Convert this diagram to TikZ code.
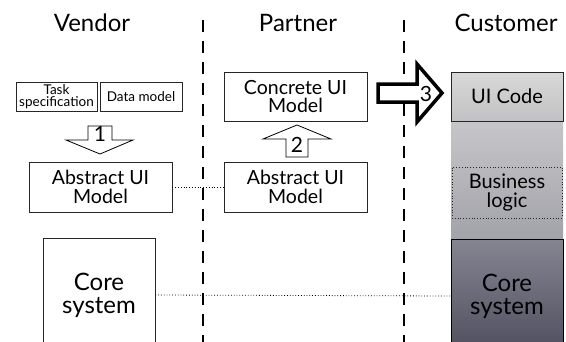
\documentclass[tikz,border=0pt]{standalone}
\usepackage{fontspec}
\setmainfont{Lato}
\definecolor{uitop}{HTML}{D8D8D8}
\definecolor{uibot}{HTML}{C2C2C4}
\definecolor{midtop}{HTML}{C6C6CA}
\definecolor{midbot}{HTML}{A2A2A9}
\definecolor{coretop}{HTML}{858592}
\definecolor{corebot}{HTML}{4E4E5E}
\begin{document}
\begin{tikzpicture}[x=1pt,y=-1pt,
  box/.style={draw=black!85, line width=0.8pt, fill=white, align=center, inner sep=0pt, text=black},
  titletext/.style={font=\fontsize{24}{26}\selectfont, inner sep=0pt},
  midtext/.style={font=\fontsize{19.5}{18.5}\selectfont},
  smalltext/.style={font=\fontsize{13.5}{12.5}\selectfont},
  bigtext/.style={font=\fontsize{24}{23}\selectfont},
  codetext/.style={font=\fontsize{20}{19}\selectfont},
  digit/.style={font=\fontsize{21}{21}\selectfont, inner sep=0pt},
  sep/.style={line width=1.8pt, dash pattern=on 12pt off 9pt},
  link/.style={line width=0.8pt, dotted, black},
  hollow/.style={draw=black, line width=0.8pt, fill=white, line join=miter},
  thickarrow/.style={draw=black, line width=3.5pt, fill=white, line join=miter}
]
\useasboundingbox (0,0) rectangle (566,341);
\clip (0,0) rectangle (566,341);

% titles
\node[titletext] (tv) at (92,23) {Vendor};
\node[titletext] (tp) at (298,23) {Partner};
\node[titletext] (tc) at (506,23) {Customer};

% separators
\coordinate (s1a) at (203,20); \coordinate (s1b) at (203,345);
\coordinate (s2a) at (404,20); \coordinate (s2b) at (404,345);
\draw[sep] (s1a) -- (s1b);
\draw[sep] (s2a) -- (s2b);

% customer column background
\shade[top color=midtop, bottom color=midbot] (451,121) rectangle (563,239);

% vendor
\node[box, smalltext, minimum width=81pt, minimum height=29pt] (task) at (56.5,96.5) {Task\\specification};
\node[box, smalltext, minimum width=82pt, minimum height=29pt] (data) at (141,96.5) {Data model};
\node[box, midtext, minimum width=143pt, minimum height=50pt] (absV) at (100.5,187) {Abstract UI\\Model};
\node[box, bigtext, minimum width=112pt, minimum height=114pt] (coreV) at (99,295) {Core\\system};

% partner
\node[box, midtext, minimum width=143pt, minimum height=49pt] (conc) at (295.5,96.5) {Concrete UI\\Model};
\node[box, midtext, minimum width=143pt, minimum height=50pt] (absP) at (295.5,187) {Abstract UI\\Model};

% customer
\node[box, codetext, minimum width=112pt, minimum height=49pt, top color=uitop, bottom color=uibot] (uicode) at (507,96.5) {UI Code};
\node[draw=black!85, line width=0.8pt, dotted, codetext, align=center, inner sep=0pt, minimum width=110pt, minimum height=51pt] (blogic) at (507,192.5) {Business\\logic};
\node[box, bigtext, minimum width=112pt, minimum height=114pt, top color=coretop, bottom color=corebot, draw=black] (coreC) at (507,296) {Core\\system};

% dotted links
\draw[link] (absV.east) -- (absP.west);
\draw[link] (coreV.east) -- (coreC.west);

% arrow 1 (down)
\draw[hollow] (88,126) -- (112,126) -- (112,140) -- (133,140) -- (100,154) -- (66,140) -- (88,140) -- cycle;
\node[digit] (n1) at (100,134) {1};

% arrow 2 (up)
\draw[hollow] (286,157) -- (308,157) -- (308,139) -- (331,139) -- (297,125) -- (263,139) -- (286,139) -- cycle;
\node[digit] (n2) at (297,145) {2};

% arrow 3 (right, thick)
\draw[thickarrow] (378,84) -- (417,84) -- (417,64) -- (442,93) -- (417,122) -- (417,102) -- (378,102) -- cycle;
\node[digit] (n3) at (426,94) {3};
\end{tikzpicture}
\end{document}
